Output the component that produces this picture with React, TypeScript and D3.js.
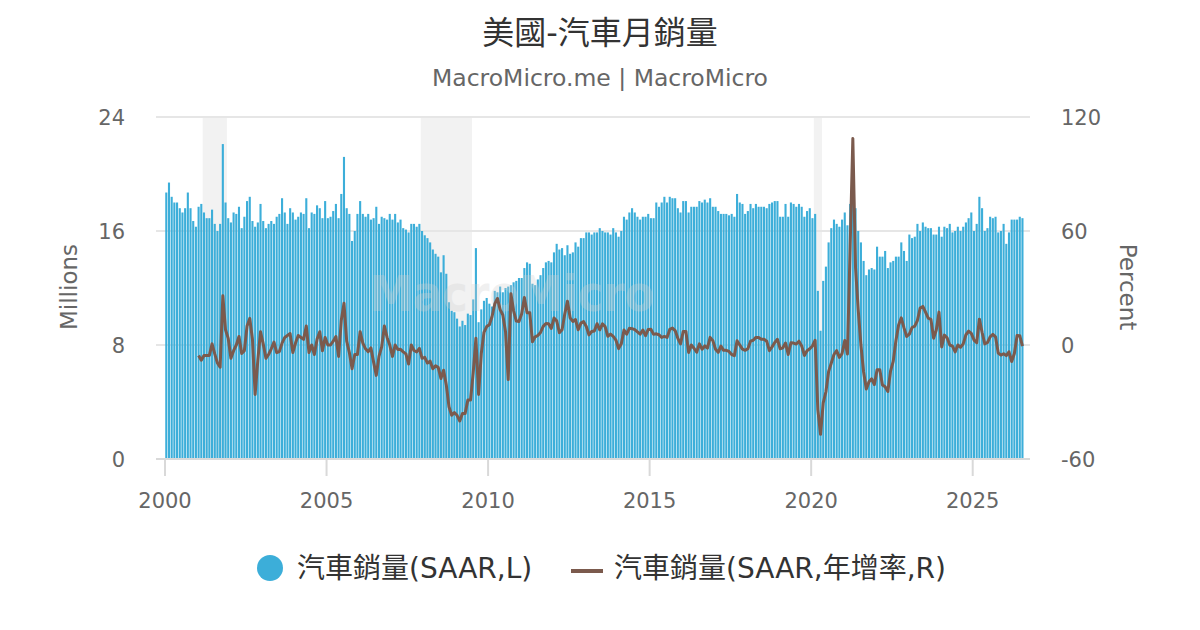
import React from "react";
import * as d3 from "d3";

// Monthly US vehicle sales, SAAR (millions), Jan 2000 - Jul 2026
const firstYear = 2000;
const salesMillions = [
  18.7, 19.4, 18.4, 18.0, 18.0, 17.6, 17.3, 17.6, 18.7, 17.6, 16.7, 16.3, // 2000
  17.7, 17.9, 17.3, 16.9, 16.9, 17.5, 16.5, 16.0, 16.5, 22.1, 18.0, 16.9, // 2001
  16.6, 17.3, 17.2, 17.7, 16.2, 17.0, 18.1, 18.4, 16.7, 16.3, 16.6, 17.9, // 2002
  16.7, 16.2, 16.5, 16.7, 16.5, 17.0, 17.2, 18.3, 17.3, 16.5, 17.6, 17.3, // 2003
  16.8, 17.0, 17.3, 17.2, 18.3, 16.2, 17.3, 17.2, 17.8, 17.6, 16.9, 18.1, // 2004
  16.9, 17.0, 17.4, 17.9, 16.9, 18.6, 21.2, 17.6, 17.2, 15.3, 16.0, 17.2, // 2005
  18.1, 17.2, 17.0, 17.2, 16.8, 16.9, 17.7, 16.5, 17.0, 16.9, 16.8, 17.2, // 2006
  16.8, 17.2, 16.6, 16.8, 16.2, 16.1, 15.9, 16.5, 16.5, 16.3, 16.5, 16.0, // 2007
  15.7, 15.5, 15.2, 14.7, 14.4, 14.2, 13.1, 14.3, 13.0, 11.0, 10.4, 10.3, // 2008
  9.85, 9.3, 9.7, 9.4, 10.2, 10.1, 11.2, 14.8, 9.6, 10.5, 11.1, 11.3, // 2009
  10.9, 10.7, 11.8, 11.7, 12.1, 11.7, 12.0, 12.1, 12.2, 12.4, 12.5, 12.7, // 2010
  12.7, 13.4, 13.8, 13.7, 12.3, 12.2, 12.6, 12.9, 13.4, 13.8, 13.9, 13.8, // 2011
  14.5, 15.1, 14.7, 14.8, 14.3, 15.0, 14.4, 14.5, 15.2, 14.9, 15.5, 15.5, // 2012
  15.9, 15.9, 15.75, 15.9, 15.9, 16.2, 16.0, 15.9, 15.9, 15.75, 16.2, 15.9, // 2013
  15.6, 16.0, 17.0, 16.8, 17.3, 17.6, 17.3, 17.0, 16.8, 17.0, 17.0, 17.2, // 2014
  16.9, 16.9, 18.0, 17.7, 18.0, 18.4, 18.0, 18.4, 18.3, 18.3, 17.6, 17.3, // 2015
  18.1, 18.1, 17.3, 17.7, 17.7, 17.7, 18.1, 18.0, 18.2, 18.0, 18.3, 17.7, // 2016
  17.7, 17.4, 17.2, 17.2, 17.2, 17.1, 17.2, 17.0, 18.6, 18.0, 17.9, 17.2, // 2017
  17.4, 17.9, 17.6, 17.9, 17.7, 17.7, 17.7, 17.6, 17.9, 18.0, 18.1, 18.1, // 2018
  17.0, 17.0, 17.9, 17.0, 18.0, 17.9, 17.7, 17.9, 17.7, 17.0, 17.4, 17.6, // 2019
  16.9, 17.2, 11.8, 9.0, 12.5, 13.5, 15.2, 16.2, 16.8, 16.5, 16.3, 16.8, // 2020
  17.3, 16.4, 17.9, 18.8, 17.6, 16.0, 15.2, 13.9, 12.9, 13.3, 13.4, 13.3, // 2021
  14.9, 14.2, 14.2, 14.6, 13.4, 13.8, 13.9, 14.2, 14.2, 15.2, 14.6, 13.9, // 2022
  15.75, 15.5, 15.6, 16.5, 16.0, 16.6, 16.3, 16.2, 16.2, 15.75, 15.75, 16.3, // 2023
  15.6, 16.3, 16.2, 16.5, 15.9, 16.0, 16.3, 16.0, 16.3, 16.6, 16.9, 17.3, // 2024
  16.0, 16.5, 18.4, 17.6, 16.0, 16.2, 17.0, 16.9, 17.0, 15.9, 16.0, 16.5, // 2025
  15.1, 15.9, 16.8, 16.8, 16.8, 17.0, 16.9, // 2026
];

// Year-over-year change (%), Jan 2001 - Jul 2026
const yoyFirstYear = 2001;
const yoyPercent = [
  -5.5, -8, -5.5, -5.5, -5.5, 0.6, -4.7, -9.5, -11.7, 25.9, 8, 3.5, // 2001
  -7, -3, 0, 4.5, -4.5, -3, 10, 14, 3, -26, -8, 7, // 2002
  0.6, -7, -5, -2, 1.5, -4, -3.5, 1, 4, 5, 6, -4, // 2003
  1, 5, 4, 3, 10, -4, 0, -5, 3, 7, -3, 4, // 2004
  0, 0, 2, 4.5, -6, 13, 22, 2, -4, -12.5, -5, -5, // 2005
  7, 1, -2, -3.5, -1.5, -9, -16, -6, -1, 10, 4, 0, // 2006
  -6, 0, -2.4, -2.3, -3.6, -4.7, -10, 0, -2.9, -3.6, -1.8, -7, // 2007
  -6.5, -9.5, -8.5, -12.5, -11, -11.8, -17.6, -13.3, -21, -32.5, -37, -35.6, // 2008
  -37, -40, -36, -36, -29, -29, -14.5, 3.5, -26, -4.5, 6.7, 9.7, // 2009
  10.7, 15, 21.6, 24.5, 18.6, 15.8, 7, -18.2, 27, 18, 12.6, 12.4, // 2010
  16.5, 25, 17, 17, 1.7, 4.3, 5, 6.6, 9.8, 11.3, 11.2, 8.7, // 2011
  14.2, 12.7, 6.5, 8, 16.3, 23, 14.3, 12.4, 13.4, 8, 11.5, 12.3, // 2012
  9.7, 5.3, 7.1, 7.4, 11.2, 8, 11.1, 9.7, 4.6, 5.7, 4.5, 2.6, // 2013
  -1.9, 0.6, 7.9, 5.7, 8.8, 8.6, 8.1, 6.9, 5.7, 7.9, 4.9, 8.2, // 2014
  8.3, 5.6, 5.9, 5.4, 4, 4.5, 4, 8.2, 8.9, 7.6, 3.5, 0.6, // 2015
  7.1, 7.1, -3.9, 0, -1.7, -3.8, 0.6, -2.2, -0.5, -1.6, 4, 2.3, // 2016
  -2.2, -3.9, -0.6, -2.8, -2.8, -3.4, -5, -5.6, 2.2, 0, -2.2, -2.8, // 2017
  -2, 2, 2.5, 4, 4, 3, 3, 2, -3, -1, 1.3, 3, // 2018
  -2, -1.5, 1, -5, 1.2, 1, 0.5, 2, -0.5, -5.5, -3, -2, // 2019
  -0.5, 2.5, -34, -47, -30.5, -24.6, -14, -9.5, -5, -3, -6.5, -4.5, // 2020
  2.4, -4.7, 51.7, 108.7, 40.8, 18.5, 0, -14.2, -23.2, -19.4, -17.8, -20.8, // 2021
  -13, -13, -21, -22, -24.5, -13.8, -8.6, 2.2, 10.5, 14.3, 9, 4.5, // 2022
  5.7, 9.2, 9.9, 13, 19.4, 20.3, 17.3, 14.1, 13.5, 3.6, 7.9, 17.3, // 2023
  -1, 5.2, 3.8, 0, -0.6, -3.6, 0, -1.2, 0.6, 5.4, 7.3, 6.1, // 2024
  2.6, 1.2, 13.6, 6.7, 0.6, 1.3, 4.3, 5.6, 4.3, -4.2, -5.3, -4.6, // 2025
  -5.6, -3.6, -8.7, -4.5, 5, 4.9, -0.6, // 2026
];

const yearTicks = [2000, 2005, 2010, 2015, 2020, 2025];
const leftTicks = [0, 8, 16, 24];
const rightTicks = [-60, 0, 60, 120];
const recessions: [string, string][] = [
  ["2001-03", "2001-12"],
  ["2007-12", "2009-07"],
  ["2020-02", "2020-05"],
];

const BAR_COLOR = "#3caed9";
const LINE_COLOR = "#7b5a4d";
const FONT = "'DejaVu Sans', 'Noto Sans CJK TC', sans-serif";

const toYear = (s: string) => {
  const [y, m] = s.split("-").map(Number);
  return y + (m - 1) / 12;
};

const App: React.FC = () => {
  const width = 1200;
  const height = 630;
  const plot = { left: 156, right: 1030, top: 117, bottom: 459 };

  const x = d3.scaleLinear().domain([2000, 2025]).range([165, 972.7]);
  const yL = d3.scaleLinear().domain([0, 24]).range([plot.bottom, plot.top]);
  const yR = d3.scaleLinear().domain([-60, 120]).range([plot.bottom, plot.top]);

  const barW = 2.1;
  const shift = 0.04; // bars sit a touch after the first of the month

  const linePath =
    d3
      .line<number>()
      .x((_, i) => x(yoyFirstYear + i / 12 + shift))
      .y((d) => yR(d))(yoyPercent) || "";

  return (
    <svg
      width={width}
      height={height}
      style={{ position: "absolute", left: 0, top: 0, background: "#fff" }}
      fontFamily={FONT}
    >
      <rect width={width} height={height} fill="#fff" />

      {/* Title */}
      <text x={600} y={44} textAnchor="middle" fontSize={32} fill="#333">
        美國-汽車月銷量
      </text>
      <text x={600} y={86} textAnchor="middle" fontSize={23.5} fill="#666">
        MacroMicro.me | MacroMicro
      </text>

      {/* Recession bands */}
      {recessions.map(([a, b]) => (
        <rect
          key={a}
          x={x(toYear(a))}
          y={plot.top}
          width={x(toYear(b)) - x(toYear(a))}
          height={plot.bottom - plot.top}
          fill="#f2f2f2"
        />
      ))}

      {/* Grid */}
      {leftTicks
        .filter((t) => t > 0)
        .map((t) => (
          <line key={t} x1={plot.left} x2={plot.right} y1={yL(t)} y2={yL(t)} stroke="#e6e6e6" strokeWidth={2} />
        ))}

      {/* Bars */}
      <g fill={BAR_COLOR}>
        {salesMillions.map((v, i) => {
          const cx = x(firstYear + i / 12 + shift);
          return <rect key={i} x={cx - barW / 2} y={yL(v)} width={barW} height={yL(0) - yL(v)} />;
        })}
      </g>

      {/* Watermark */}
      <text
        x={512}
        y={311}
        textAnchor="middle"
        fontSize={50}
        fontWeight="bold"
        fill="#d0d0d0"
        opacity={0.3}
        textLength={285}
        lengthAdjust="spacingAndGlyphs"
      >
        MacroMicro
      </text>

      {/* X axis */}
      <line x1={plot.left} x2={plot.right} y1={plot.bottom} y2={plot.bottom} stroke="#d9d9d9" strokeWidth={2} />
      {yearTicks.map((t) => (
        <g key={t}>
          <line x1={x(t)} x2={x(t)} y1={plot.bottom} y2={plot.bottom + 17} stroke="#d9d9d9" strokeWidth={2} />
          <text x={x(t)} y={508} textAnchor="middle" fontSize={21} fill="#666">
            {t}
          </text>
        </g>
      ))}

      {/* Left axis labels */}
      {leftTicks.map((t) => (
        <text key={t} x={125} y={yL(t) + 7.5} textAnchor="end" fontSize={21} fill="#666">
          {t}
        </text>
      ))}
      <text transform="translate(69,287) rotate(-90)" textAnchor="middle" dominantBaseline="central" fontSize={23} fill="#666">
        Millions
      </text>

      {/* Right axis labels */}
      {rightTicks.map((t) => (
        <text key={t} x={1061} y={yR(t) + 7.5} textAnchor="start" fontSize={21} fill="#666">
          {t}
        </text>
      ))}
      <text transform="translate(1128,287) rotate(90)" textAnchor="middle" dominantBaseline="central" fontSize={23} fill="#666">
        Percent
      </text>

      {/* YoY line */}
      <path d={linePath} fill="none" stroke={LINE_COLOR} strokeWidth={3} strokeLinejoin="round" />

      {/* Legend */}
      <circle cx={270} cy={568} r={13} fill={BAR_COLOR} />
      <text x={297} y={578} fontSize={28} fill="#333">
        汽車銷量(SAAR,L)
      </text>
      <line x1={571} x2={603} y1={571} y2={571} stroke={LINE_COLOR} strokeWidth={4} />
      <text x={614} y={578} fontSize={28} fill="#333">
        汽車銷量(SAAR,年增率,R)
      </text>
    </svg>
  );
};

export default App;
